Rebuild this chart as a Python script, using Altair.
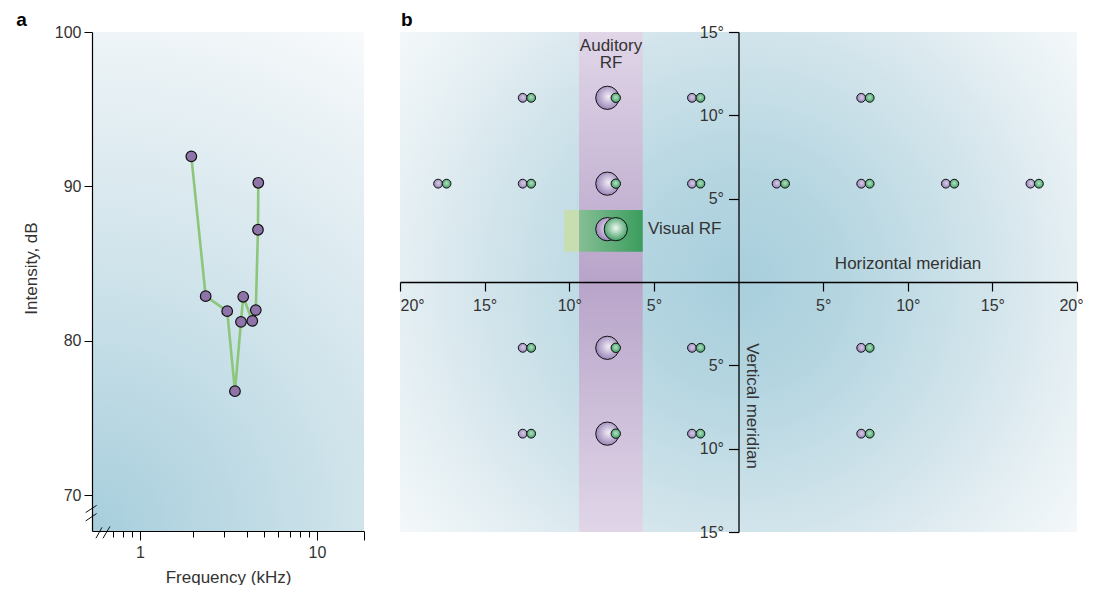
import math
import altair as alt
import pandas as pd

FONT = "Liberation Sans"
TXT = "#333333"

# ---------------- panel a: frequency tuning curve ----------------
freq_khz = [1.95, 2.35, 3.11, 3.44, 3.72, 3.83, 4.31, 4.51, 4.64, 4.66]
intensity_db = [91.95, 82.90, 81.93, 76.75, 81.24, 82.86, 81.30, 82.00, 87.20, 90.24]
freq_domain = [0.5357, 18.43]
db_domain = [67.7, 100.0]
freq_tick_values = [0.7, 0.8, 0.9, 1, 2, 3, 4, 5, 6, 7, 8, 9, 10, 18.43]
db_tick_values = [70, 80, 90, 100]
# axis-break slashes (start / end in data units)
break_f1 = [0.564, 0.618, 0.493, 0.493]
break_f2 = [0.610, 0.677, 0.569, 0.569]
break_db1 = [67.23, 67.23, 68.89, 68.35]
break_db2 = [67.94, 68.00, 69.36, 68.83]
panel_a_tag = ["a"]
panel_a_tag_pos = [0.2, 100.39]

# ---------------- panel b: receptive-field map (degrees) ----------------
pair_x = [-12.5, -2.5, 7.5,
          -17.5, -12.5, -2.5, 2.5, 7.5, 12.5, 17.5,
          -12.5, -2.5, 7.5,
          -12.5, -2.5, 7.5]
pair_y = [11.05, 11.05, 11.05,
          5.9, 5.9, 5.9, 5.9, 5.9, 5.9, 5.9,
          -3.95, -3.95, -3.95,
          -9.1, -9.1, -9.1]
aud_x = [-7.5, -7.5, -7.5, -7.5]
aud_y = [11.05, 5.9, -3.95, -9.1]
vis_x = [-7.5]
vis_y = [3.17]
auditory_rf_x = [-9.42, -5.66]
deg_domain_x = [-20, 20]
deg_domain_y = [-15, 15]
visual_rf_x = [-10.31, -9.42, -5.66]
visual_rf_y = [1.82, 4.32]
deg_x_ticks = [-20, -15, -10, -5, 5, 10, 15, 20]
deg_y_ticks = [-15, -10, -5, 5, 10, 15]
label_text = ["Auditory\nRF", "Visual RF", "Horizontal meridian", "Vertical meridian"]
label_x = [-7.53, -5.35, 10.02, 0.8]
label_y = [13.86, 3.17, 1.08, -7.44]
panel_b_tag = ["b"]
panel_b_tag_pos = [-19.94, 15.36]
PAIR_OFF = 0.25


def stops(*pairs):
    return [{"offset": o, "color": c} for o, c in pairs]


def radial(cx, cy, r, *pairs):
    return {"gradient": "radial", "x1": cx, "y1": cy, "r1": 0,
            "x2": cx, "y2": cy, "r2": r, "stops": stops(*pairs)}


def linear(x1, y1, x2, y2, *pairs):
    return {"gradient": "linear", "x1": x1, "y1": y1, "x2": x2, "y2": y2,
            "stops": stops(*pairs)}


# ================= panel a =================
WA, HA = 272, 499
xs_a = alt.Scale(type="log", domain=freq_domain, nice=False)
ys_a = alt.Scale(domain=db_domain, nice=False, zero=False)

major = "datum.value == 1 || datum.value == 10 || datum.value > 15"
ax_a_x = alt.Axis(
    values=freq_tick_values,
    labelExpr="datum.value == 1 ? '1' : (datum.value == 10 ? '10' : '')",
    tickSize={"condition": {"test": major, "value": 9}, "value": 6},
    tickColor="black", tickWidth=1, domainColor="black", domainWidth=1.2,
    labelFontSize=16, labelColor=TXT, labelPadding=4, labelOverlap=False,
    title="Frequency (kHz)", titleFontSize=17, titleFontWeight="normal",
    titleColor=TXT, titlePadding=9, grid=False, zindex=1)
ax_a_y = alt.Axis(
    values=db_tick_values, tickSize=8, tickColor="black", tickWidth=1,
    domainColor="black", domainWidth=1.2, labelFontSize=16, labelColor=TXT,
    labelPadding=3, labelOverlap=False,
    title="Intensity, dB", titleFontSize=17, titleFontWeight="normal",
    titleColor=TXT, titlePadding=14, titleY=236, grid=False, zindex=1)

# background square (clipped) so the radial fade is circular in pixels
lo, hi = math.log10(freq_domain[0]), math.log10(freq_domain[1])
bg_f_max = 10 ** (lo + (hi - lo) * HA / WA)
grad_a = radial(0, 1, 1.15, (0, "#a7cedc"), (0.48, "#d1e4eb"),
                (0.87, "#eef4f7"), (1, "#f9fbfc"))

bg_a = alt.Chart(pd.DataFrame({"f": [freq_domain[0]], "f2": [bg_f_max],
                               "d": [db_domain[0]], "d2": [db_domain[1]]})
                 ).mark_rect(fill=grad_a, clip=True).encode(
    x=alt.X("f:Q", scale=xs_a, axis=ax_a_x), x2="f2",
    y=alt.Y("d:Q", scale=ys_a, axis=ax_a_y), y2="d2")

curve = pd.DataFrame({"f": freq_khz, "d": intensity_db,
                      "i": list(range(len(freq_khz)))})
line_a = alt.Chart(curve).mark_line(color="#8cc67a", strokeWidth=2.6).encode(
    x=alt.X("f:Q", scale=xs_a), y=alt.Y("d:Q", scale=ys_a), order="i:Q")
pts_a = alt.Chart(curve).mark_circle(
    size=112, fill="#8e74a9", stroke="#111111", strokeWidth=1.2, opacity=1
).encode(x=alt.X("f:Q", scale=xs_a), y=alt.Y("d:Q", scale=ys_a))

brk = pd.DataFrame({"f": break_f1, "f2": break_f2, "d": break_db1, "d2": break_db2})
brk_a = alt.Chart(brk).mark_rule(color="#111111", strokeWidth=1).encode(
    x=alt.X("f:Q", scale=xs_a), x2="f2", y=alt.Y("d:Q", scale=ys_a), y2="d2")

tag_a = alt.Chart(pd.DataFrame({"f": [panel_a_tag_pos[0]], "d": [panel_a_tag_pos[1]],
                                "t": panel_a_tag})).mark_text(
    font=FONT, fontSize=19, fontWeight="bold", color="black", align="left",
    baseline="alphabetic").encode(
    x=alt.X("f:Q", scale=xs_a), y=alt.Y("d:Q", scale=ys_a), text="t:N")

panel_a = alt.layer(bg_a, line_a, pts_a, brk_a, tag_a).properties(width=WA, height=HA)

# ================= panel b =================
WB, HB = 677, 500
xs_b = alt.Scale(domain=deg_domain_x, nice=False, zero=False)
ys_b = alt.Scale(domain=deg_domain_y, nice=False, zero=False)

ax_b_x = alt.Axis(
    values=deg_x_ticks, labelExpr="abs(datum.value) + '°'", offset=-250,
    tickSize=9, tickColor="black", tickWidth=1.2, domainColor="black",
    domainWidth=1.3, labelFontSize=16, labelColor=TXT, labelPadding=6,
    labelAlign={"condition": {"test": "datum.value == -20", "value": "left"},
                "value": "center"},
    labelOffset={"condition": {"test": "datum.value == 20", "value": -6},
                 "value": 0},
    labelOverlap=False, title=None, grid=False, zindex=1)
ax_b_y = alt.Axis(
    values=deg_y_ticks, labelExpr="abs(datum.value) + '°'", offset=-338.5,
    tickSize=10, tickColor="black", tickWidth=1.2, domainColor="black",
    domainWidth=1.3, labelFontSize=16, labelColor=TXT, labelPadding=5,
    labelOverlap=False, title=None, grid=False, zindex=1)

grad_b = radial(0.5, 0.5, 0.65, (0, "#a8cedc"), (0.25, "#b5d6e1"),
                (0.57, "#d2e4eb"), (0.77, "#e5eff3"), (1, "#f7fafb"))
grad_band = linear(0, 0, 0, 1, (0, "#e0d6e8"), (0.5, "#b8a4c9"),
                   (1, "#e0d6e8"))
grad_vis = linear(0, 0, 1, 0, (0, "#86be95"), (1, "#3a9d5d"))
grad_purple = radial(0.55, 0.45, 0.6, (0, "#f2eef7"), (1, "#937db3"))
grad_purple_s = radial(0.55, 0.45, 0.6, (0, "#d9cee9"), (1, "#927db3"))
grad_green = radial(0.5, 0.45, 0.6, (0, "#f0f9f2"), (1, "#2f9456"))
grad_green_s = radial(0.5, 0.45, 0.6, (0, "#b9e3c6"), (1, "#32965a"))

bg_b = alt.Chart(pd.DataFrame({"x": [deg_domain_x[0]], "x2": [deg_domain_x[1]],
                               "y": [-20], "y2": [20]})
                 ).mark_rect(fill=grad_b, clip=True).encode(
    x=alt.X("x:Q", scale=xs_b, axis=ax_b_x), x2="x2",
    y=alt.Y("y:Q", scale=ys_b, axis=ax_b_y), y2="y2")

band = alt.Chart(pd.DataFrame({"x": [auditory_rf_x[0]], "x2": [auditory_rf_x[1]],
                               "y": [deg_domain_y[0]], "y2": [deg_domain_y[1]]})
                 ).mark_rect(fill=grad_band).encode(
    x=alt.X("x:Q", scale=xs_b), x2="x2", y=alt.Y("y:Q", scale=ys_b), y2="y2")

vis_light = alt.Chart(pd.DataFrame({"x": [visual_rf_x[0]], "x2": [visual_rf_x[1]],
                                    "y": [visual_rf_y[0]], "y2": [visual_rf_y[1]]})
                      ).mark_rect(fill="#c8deb0").encode(
    x=alt.X("x:Q", scale=xs_b), x2="x2", y=alt.Y("y:Q", scale=ys_b), y2="y2")
vis_dark = alt.Chart(pd.DataFrame({"x": [visual_rf_x[1]], "x2": [visual_rf_x[2]],
                                   "y": [visual_rf_y[0]], "y2": [visual_rf_y[1]]})
                     ).mark_rect(fill=grad_vis).encode(
    x=alt.X("x:Q", scale=xs_b), x2="x2", y=alt.Y("y:Q", scale=ys_b), y2="y2")


def dots(xs, ys, sign, size, fill):
    df = pd.DataFrame({"x": xs, "y": ys})
    return alt.Chart(df).transform_calculate(
        px=f"datum.x + ({sign * PAIR_OFF})"
    ).mark_circle(size=size, fill=fill, stroke="#111111", strokeWidth=1,
                  opacity=1).encode(
        x=alt.X("px:Q", scale=xs_b), y=alt.Y("y:Q", scale=ys_b))


small_p = dots(pair_x, pair_y, -1, 78, grad_purple_s)
small_g = dots(pair_x, pair_y, +1, 78, grad_green_s)
aud_p = dots(aud_x, aud_y, -1, 540, grad_purple)
aud_g = dots(aud_x, aud_y, +1, 88, grad_green_s)
vis_p = dots(vis_x, vis_y, -1, 540, grad_purple)
vis_g = dots(vis_x, vis_y, +1, 540, grad_green)

labels = pd.DataFrame({"x": label_x, "y": label_y, "t": label_text})


def label(i, **kw):
    return alt.Chart(labels.iloc[[i]]).mark_text(
        font=FONT, fontSize=17, color=TXT, lineBreak="\n", lineHeight=17, **kw
    ).encode(x=alt.X("x:Q", scale=xs_b), y=alt.Y("y:Q", scale=ys_b), text="t:N")


t_aud = label(0, align="center", baseline="alphabetic")
t_vis = label(1, align="left", baseline="middle")
t_hor = label(2, align="center", baseline="middle")
t_ver = label(3, align="center", baseline="middle", angle=90)

tag_b = alt.Chart(pd.DataFrame({"x": [panel_b_tag_pos[0]], "y": [panel_b_tag_pos[1]],
                                "t": panel_b_tag})).mark_text(
    font=FONT, fontSize=19, fontWeight="bold", color="black", align="left",
    baseline="alphabetic").encode(
    x=alt.X("x:Q", scale=xs_b), y=alt.Y("y:Q", scale=ys_b), text="t:N")

panel_b = alt.layer(bg_b, band, vis_light, vis_dark, small_p, small_g,
                    aud_p, aud_g, vis_p, vis_g, t_aud, t_vis, t_hor, t_ver, tag_b
                    ).properties(width=WB, height=HB)

chart = alt.hconcat(panel_a, panel_b, spacing=34).properties(
    padding={"left": 8, "top": 2, "right": 0, "bottom": 0}
).configure(font=FONT).configure_view(stroke=None)

chart.save("out.html", embed_options={"renderer": "svg", "actions": False})
